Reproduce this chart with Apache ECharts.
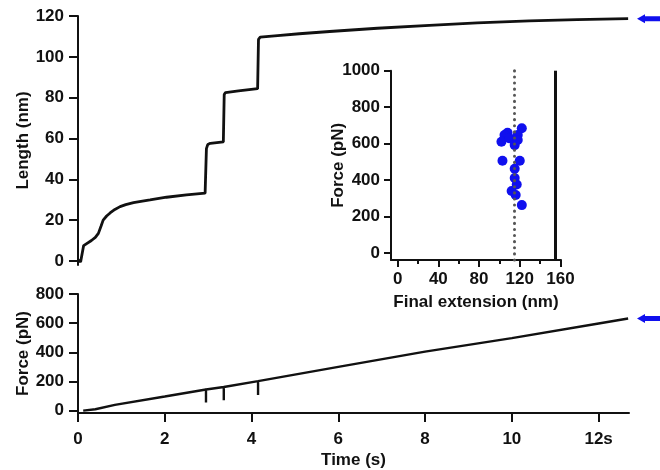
<!DOCTYPE html>
<html>
<head>
<meta charset="utf-8">
<script src="https://cdn.jsdelivr.net/npm/echarts@6/dist/echarts.min.js"></script>
<style>
html, body {margin: 0; background: #fff;}
#chart {width: 660px; height: 470px;}
</style>
</head>
<body>
<div id="chart"></div>
<script>
// length trace [time s, length nm]
const lengthTrace = [
    [0.00, 0.5], [0.06, -0.5], [0.10, 0], [0.13, 7.5], [0.20, 8.5], [0.31, 10], [0.40, 11.5],
    [0.47, 13.5], [0.53, 17], [0.58, 20], [0.66, 22], [0.74, 23.5], [0.85, 25.2], [0.97, 26.6],
    [1.10, 27.6], [1.28, 28.6], [1.45, 29.2], [1.66, 29.9], [2.04, 31.2], [2.50, 32.4],
    [2.93, 33.2], [2.95, 33.5], [2.96, 55], [2.99, 57], [3.05, 57.6], [3.35, 58.3],
    [3.36, 58.5], [3.37, 81.5], [3.40, 82.5], [3.70, 83.3], [4.14, 84.4], [4.15, 84.5],
    [4.16, 108.5], [4.20, 109.6], [4.60, 110.4], [5.10, 111.3], [5.80, 112.4], [6.90, 114],
    [8.10, 115.4], [9.20, 116.6], [10.4, 117.6], [11.5, 118.2], [12.68, 118.7]
];
// force trace [time s, force pN], with the three drops at the steps
const forceTrace = [
    [0.12, 0], [0.40, 10], [0.85, 40], [2.00, 97], [2.95, 145], [2.95, 56], [2.95, 145],
    [3.36, 162], [3.36, 71], [3.36, 162], [4.15, 203], [4.15, 108], [4.15, 203],
    [6.00, 300], [8.00, 405], [10.0, 497], [12.0, 598], [12.68, 632]
];
// inset: final extension vs rupture force
const finalExtension = [122, 108, 105, 102, 110, 118, 115, 118, 103, 120, 115, 115, 117, 112, 116, 122];
const ruptureForce = [684, 660, 647, 610, 629, 647, 592, 620, 506, 506, 462, 412, 376, 340, 318, 263];
const meanExtension = 115;
const contourLength = 155;

const timeTicks = [0, 2, 4, 6, 8, 10, 12];
const timeLabels = ['0', '2', '4', '6', '8', '10', '12s'];
const lengthTicks = [0, 20, 40, 60, 80, 100, 120];
const forceTicks = [0, 200, 400, 600, 800];
const insetForceTicks = [0, 200, 400, 600, 800, 1000];
const insetExtTicks = [0, 40, 80, 120, 160];
const insetExtMinor = [20, 60, 100, 140];

const ink = '#111';
const blue = '#1010ee';
const font = {fontFamily: 'Liberation Sans', fontWeight: 'bold', fontSize: 17, color: ink};
const plain = v => String(v);

const axis = (extra, ticks, tickLen, margin, formatter = plain) => ({
    type: 'value',
    splitLine: {show: false},
    axisLine: {show: true, onZero: false, lineStyle: {color: ink, width: 2}},
    axisTick: {show: true, length: tickLen, customValues: ticks, lineStyle: {color: ink, width: 2}},
    axisLabel: {...font, margin, customValues: ticks, formatter},
    nameTextStyle: font,
    nameLocation: 'middle',
    nameMoveOverlap: false,
    ...extra,
});

const chart = echarts.init(document.getElementById('chart'));

chart.setOption({
    animation: false,
    grid: [
        {left: 78, top: 16, width: 551, height: 249},
        {left: 78, top: 294, width: 551, height: 121.7},
        {left: 391, top: 70.7, width: 170, height: 189.3},
    ],
    xAxis: [
        {type: 'value', gridIndex: 0, min: 0, max: 12.7, show: false},
        axis({
            gridIndex: 1, min: 0, max: 12.7, position: 'bottom',
            name: 'Time (s)', nameGap: 39,
        }, timeTicks, 9, 18, v => timeLabels[timeTicks.indexOf(v)]),
        axis({
            gridIndex: 2, min: -6.5, max: 160.5, position: 'bottom',
            name: 'Final extension (nm)', nameGap: 34,
        }, insetExtTicks, 7, 11),
        {
            type: 'value', gridIndex: 2, min: -6.5, max: 160.5, position: 'bottom',
            splitLine: {show: false},
            axisLine: {show: false, onZero: false},
            axisLabel: {show: false},
            axisTick: {show: true, length: 4, customValues: insetExtMinor, lineStyle: {color: ink, width: 2}},
        },
    ],
    yAxis: [
        axis({
            gridIndex: 0, min: -2, max: 120, position: 'left',
            name: 'Length (nm)', nameGap: 46,
        }, lengthTicks, 9, 14),
        axis({
            gridIndex: 1, min: -16, max: 800, position: 'left',
            name: 'Force (pN)', nameGap: 46,
        }, forceTicks, 9, 14),
        axis({
            gridIndex: 2, min: -38, max: 1000, position: 'left',
            name: 'Force (pN)', nameGap: 44,
        }, insetForceTicks, 7, 11),
    ],
    series: [
        {
            type: 'line', xAxisIndex: 0, yAxisIndex: 0, data: lengthTrace,
            showSymbol: false, lineStyle: {color: ink, width: 2.8},
        },
        {
            type: 'line', xAxisIndex: 1, yAxisIndex: 1, data: forceTrace,
            showSymbol: false, lineStyle: {color: ink, width: 2.4},
        },
        {
            type: 'scatter', xAxisIndex: 2, yAxisIndex: 2,
            data: finalExtension.map((x, i) => [x, ruptureForce[i]]),
            symbolSize: 10, itemStyle: {color: blue, opacity: 1},
            markLine: {
                silent: true, symbol: 'none', label: {show: false},
                data: [
                    {xAxis: meanExtension, lineStyle: {color: '#555', width: 3, type: [0.1, 6], cap: 'round'}},
                    {xAxis: contourLength, lineStyle: {color: ink, width: 3, type: 'solid'}},
                ],
            },
            z: 3,
        },
    ],
});

// blue arrows at the right edge, pointing at the final values of both traces
const arrow = (gridIdx, value) => {
    const [xEnd, y] = chart.convertToPixel({xAxisIndex: gridIdx, yAxisIndex: gridIdx}, value);
    const tip = xEnd + 8;
    return {
        type: 'polygon',
        shape: {points: [[tip, y], [tip + 8, y - 4.5], [tip + 8, y - 2.5], [tip + 30, y - 2.5], [tip + 30, y + 2.5], [tip + 8, y + 2.5], [tip + 8, y + 4.5]]},
        style: {fill: blue},
    };
};

chart.setOption({
    graphic: [
        arrow(0, [12.7, lengthTrace[lengthTrace.length - 1][1]]),
        arrow(1, [12.7, forceTrace[forceTrace.length - 1][1]]),
    ],
});
</script>
</body>
</html>
